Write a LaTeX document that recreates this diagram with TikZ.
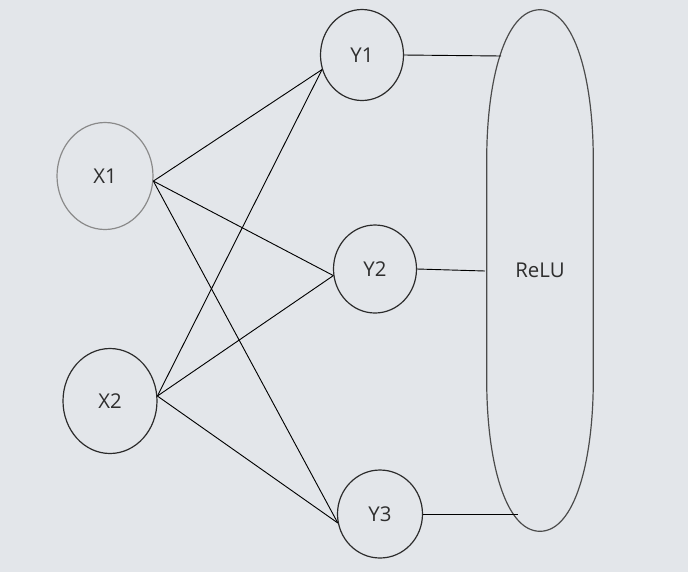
\documentclass[tikz,border=0pt]{standalone}
\usepackage{fontspec}
\setmainfont{Open Sans}
\usepackage{tikz}
\usetikzlibrary{positioning, shapes.geometric, calc}
\definecolor{canvasBg}  {HTML}{E3E6EA}
\definecolor{inkDark}   {HTML}{2B2B2B}
\definecolor{inkSoft}   {HTML}{8A8A8A}
\definecolor{labelInk}  {HTML}{2E2E2E}

\begin{document}
\begin{tikzpicture}[x=0.25mm, y=-0.25mm,
    neuron/.style={ellipse, draw=inkDark, line width=0.85pt, inner sep=0pt,
                   font=\fontsize{14.5}{16}\selectfont, text=labelInk},
    wire/.style={draw=black, line width=0.65pt},
  ]
  % canvas, fixes the margins
  \fill[canvasBg] (0,0) rectangle (688,572);

  % input layer
  \node[neuron, draw=inkSoft, minimum width=24mm, minimum height=26.75mm] (x1) at (105,176) {X1};
  \node[neuron, minimum width=23.5mm, minimum height=26.25mm] (x2) at (110,401) {X2};

  % output layer
  \node[neuron, minimum width=20.75mm, minimum height=22.75mm] (y1) at (362,55) {Y1};
  \node[neuron, minimum width=20.75mm, minimum height=22mm] (y2) at (375,269) {Y2};
  \node[neuron, minimum width=21.25mm, minimum height=22mm] (y3) at (380,514) {Y3};

  % activation block
  \node[font=\fontsize{14.5}{16}\selectfont, text=labelInk,
        minimum width=26.5mm, minimum height=130.25mm, inner sep=0pt] (relu) at (540,270.5) {ReLU};
  \draw[inkDark!85, line width=0.85pt]
    (relu.north) .. controls ++(-35,0) and ++(0,-80) .. ($(relu.north west)+(0,150)$)
    -- ($(relu.south west)+(0,-151)$)
    .. controls ++(0,80) and ++(-35,0) .. (relu.south)
    .. controls ++(35,0) and ++(0,80) .. ($(relu.south east)+(0,-151)$)
    -- ($(relu.north east)+(0,150)$)
    .. controls ++(0,-80) and ++(35,0) .. (relu.north) -- cycle;
  \coordinate (r1) at (501,56);
  \coordinate (r2) at (485,271);
  \coordinate (r3) at (518,514);

  % fully connected weights
  \foreach \src/\ang in {x1/-6, x2/6}
    \foreach \dst/\tang in {y1/200, y2/189, y3/192}
      \draw[wire] (\src.\ang) -- (\dst.\tang);

  % into the activation
  \draw[wire] (y1.east) -- (r1);
  \draw[wire] (y2.east) -- (r2);
  \draw[wire] (y3.east) -- (r3);
\end{tikzpicture}
\end{document}
